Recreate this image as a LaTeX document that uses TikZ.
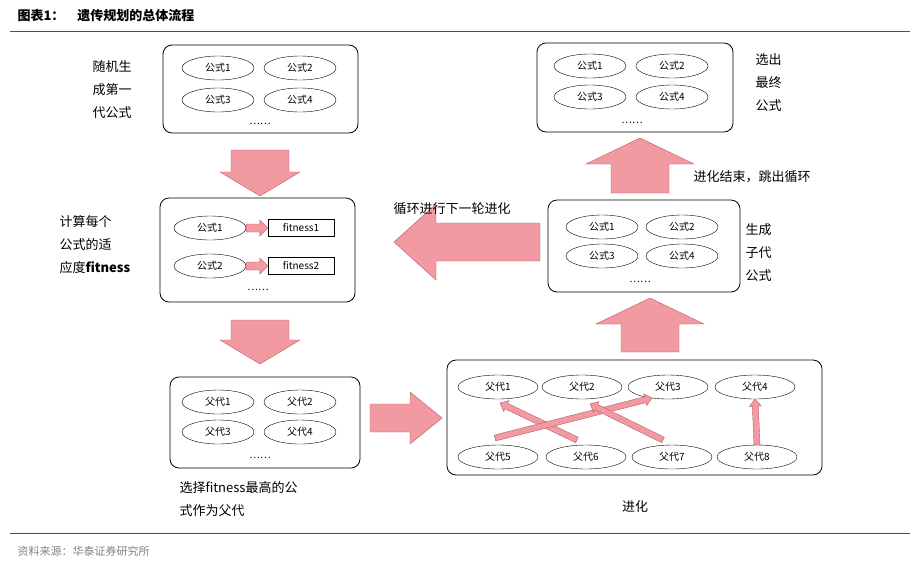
\documentclass[tikz,border=0pt]{standalone}
\usepackage{fontspec}
\setmainfont{Noto Sans CJK SC}
\usetikzlibrary{shapes.geometric,calc}
\definecolor{pinkA}{HTML}{F29AA2}
\definecolor{pinkB}{HTML}{B85A66}
\definecolor{redline}{HTML}{B22222}
\tikzset{
  box/.style={draw,rounded corners=9pt,line width=0.8pt},
  ell/.style={draw,ellipse,minimum width=#1,minimum height=24pt,inner sep=0pt,font=\fontsize{10}{11}\selectfont},
  ell/.default=72pt,
  rbox/.style={draw,minimum width=66pt,minimum height=17pt,inner sep=0pt,font=\fontsize{10}{11}\selectfont},
  lbl/.style={font=\fontsize{13}{23}\selectfont,align=left},
  dots/.style={font=\fontsize{10}{11}\selectfont},
  fatp/.style={fill=pinkA,draw=pinkB,line width=0.4pt,line join=miter}
}
% from, to, half shaft, half head, head length
\newcommand{\fatarr}[5]{%
  \coordinate (fc) at ($(#2)!#5!(#1)$);
  \draw[fatp] ($(#1)!#3!90:(#2)$) -- ($(fc)!#3!-90:(#1)$) -- ($(fc)!#4!-90:(#1)$) -- (#2)
    -- ($(fc)!#4!90:(#1)$) -- ($(fc)!#3!90:(#1)$) -- ($(#1)!#3!-90:(#2)$) -- cycle;}
\begin{document}
\begin{tikzpicture}[x=1pt,y=-1pt]
\useasboundingbox (0,0) rectangle (920,568);
\node[anchor=west,font=\bfseries\fontsize{13}{14}\selectfont] (title) at (14,16) {图表1：\quad 遗传规划的总体流程};
\draw[redline,line width=1pt] (10,31) -- (910,31);
\draw[redline,line width=1pt] (10,533) -- (910,533);
\node[anchor=west,font=\fontsize{11}{12}\selectfont,text=gray] (src) at (14,551) {资料来源：华泰证券研究所};
% box1
\draw[box] (163,45) rectangle (358,133);
\node[ell] (a1) at (218,68) {公式1};
\node[ell] (a2) at (300,68) {公式2};
\node[ell] (a3) at (218,100) {公式3};
\node[ell] (a4) at (300,100) {公式4};
\node[dots] (ad) at (260,124) {……};
\node[lbl] (al) at (112,90) {随机生\\成第一\\代公式};
\coordinate (d1s) at (260,150); \coordinate (d1e) at (260,196);
\fatarr{d1s}{d1e}{29pt}{40pt}{24pt}
% box2
\draw[box] (160,198) rectangle (355,302);
\node[ell] (b1) at (210,228) {公式1};
\node[ell] (b2) at (210,266) {公式2};
\node[rbox] (f1) at (301,228) {fitness1};
\node[rbox] (f2) at (301,266) {fitness2};
\fatarr{b1.east}{f1.west}{4pt}{8pt}{8pt}
\fatarr{b2.east}{f2.west}{4pt}{8pt}{8pt}
\node[dots] (bd) at (258,290) {……};
\node[lbl,anchor=west] (bl) at (56,245) {计算每个\\公式的适\\应度\textbf{fitness}};
\coordinate (d2s) at (260,320); \coordinate (d2e) at (260,364);
\fatarr{d2s}{d2e}{29pt}{40pt}{24pt}
% box3
\draw[box] (170,377) rectangle (360,468);
\node[ell] (c1) at (218,402) {父代1};
\node[ell] (c2) at (300,402) {父代2};
\node[ell] (c3) at (218,432) {父代3};
\node[ell] (c4) at (300,432) {父代4};
\node[dots] (cd) at (260,458) {……};
\node[lbl,anchor=north west] (cl) at (176,478) {选择fitness最高的公\\式作为父代};
\coordinate (r1s) at (370,418); \coordinate (r1e) at (442,418);
\fatarr{r1s}{r1e}{14pt}{26pt}{32pt}
% box4
\draw[box] (447,360) rectangle (822,475);
\node[ell=80pt] (p1) at (498,387) {父代1};
\node[ell=80pt] (p2) at (582,387) {父代2};
\node[ell=80pt] (p3) at (668,387) {父代3};
\node[ell=80pt] (p4) at (755,387) {父代4};
\node[ell=80pt] (p5) at (498,457) {父代5};
\node[ell=80pt] (p6) at (586,457) {父代6};
\node[ell=80pt] (p7) at (672,457) {父代7};
\node[ell=80pt] (p8) at (757,457) {父代8};
\coordinate (s6) at (577,440); \coordinate (e1) at (500,403);
\coordinate (s5) at (495,438); \coordinate (e3) at (652,398);
\coordinate (s7) at (663,440); \coordinate (e2) at (590,404);
\fatarr{s6}{e1}{3pt}{6pt}{7pt}
\fatarr{s5}{e3}{3pt}{6pt}{7pt}
\fatarr{s7}{e2}{3pt}{6pt}{7pt}
\fatarr{p8.north}{p4.south}{3pt}{6pt}{7pt}
\node[lbl] (pl) at (635,507) {进化};
\coordinate (u1s) at (650,352); \coordinate (u1e) at (650,298);
\fatarr{u1s}{u1e}{29pt}{54pt}{26pt}
% box5
\draw[box] (548,200) rectangle (740,292);
\node[ell] (g1) at (602,227) {公式1};
\node[ell] (g2) at (682,227) {公式2};
\node[ell] (g3) at (602,256) {公式3};
\node[ell] (g4) at (682,256) {公式4};
\node[dots] (gd) at (640,282) {……};
\node[lbl,anchor=west] (gl) at (742,253) {生成\\子代\\公式};
\coordinate (l1s) at (540,242); \coordinate (l1e) at (394,242);
\fatarr{l1s}{l1e}{19pt}{38pt}{42pt}
\node[lbl] (ll) at (452,209) {循环进行下一轮进化};
\coordinate (u2s) at (640,193); \coordinate (u2e) at (640,138);
\fatarr{u2s}{u2e}{29pt}{54pt}{26pt}
\node[lbl,anchor=west] (ul) at (690,177) {进化结束，跳出循环};
% box6
\draw[box] (537,43) rectangle (733,132);
\node[ell] (h1) at (590,66) {公式1};
\node[ell] (h2) at (672,66) {公式2};
\node[ell] (h3) at (590,97) {公式3};
\node[ell] (h4) at (672,97) {公式4};
\node[dots] (hd) at (632,123) {……};
\node[lbl,anchor=west] (hl) at (752,83) {选出\\最终\\公式};
\end{tikzpicture}
\end{document}
